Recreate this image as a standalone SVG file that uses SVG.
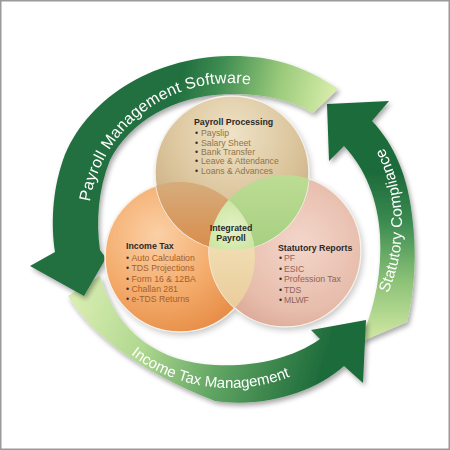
<svg xmlns="http://www.w3.org/2000/svg" width="450" height="450" viewBox="0 0 450 450">
<defs>
<style>
.t{font-family:"Liberation Sans",Arial,sans-serif;font-size:8.7px}
.h{font-weight:bold;fill:#2a2a2a;font-size:8.8px}
.b{fill:#3a3030}
.ip{fill:#8f7546}
.il{fill:#a4602c}
.ir{fill:#8e6458}
.al{font-family:"Liberation Sans",Arial,sans-serif;fill:#ffffff}
.rim{stroke:#f6f1ea;stroke-width:1.5}
</style>
<linearGradient id="gA1" gradientUnits="userSpaceOnUse" x1="332" y1="95" x2="185" y2="60">
<stop offset="0" stop-color="#d6eca9"/><stop offset="0.35" stop-color="#9ccb7c"/><stop offset="0.75" stop-color="#3f8d52"/><stop offset="1" stop-color="#22703f"/>
</linearGradient>
<linearGradient id="gA2" gradientUnits="userSpaceOnUse" x1="75" y1="300" x2="320" y2="372">
<stop offset="0" stop-color="#d9edb1"/><stop offset="0.3" stop-color="#b0d890"/><stop offset="0.62" stop-color="#5fa462"/><stop offset="1" stop-color="#1f6c3b"/>
</linearGradient>
<linearGradient id="gA3" gradientUnits="userSpaceOnUse" x1="385" y1="338" x2="385" y2="175">
<stop offset="0" stop-color="#cfe7a2"/><stop offset="0.35" stop-color="#8cc277"/><stop offset="0.72" stop-color="#3a8a50"/><stop offset="1" stop-color="#1f6c3b"/>
</linearGradient>
<radialGradient id="gT" cx="0.5" cy="0.25" r="0.8">
<stop offset="0" stop-color="#efe2c6"/><stop offset="0.5" stop-color="#dcc69e"/><stop offset="1" stop-color="#c4a274"/>
</radialGradient>
<radialGradient id="gL" cx="0.35" cy="0.35" r="0.8">
<stop offset="0" stop-color="#fbd0a6"/><stop offset="0.5" stop-color="#f4ac6c"/><stop offset="1" stop-color="#e3843c"/>
</radialGradient>
<radialGradient id="gR" cx="0.6" cy="0.45" r="0.75">
<stop offset="0" stop-color="#f3d6ca"/><stop offset="0.6" stop-color="#e7bcab"/><stop offset="1" stop-color="#d39a86"/>
</radialGradient>
<linearGradient id="gTL" gradientUnits="userSpaceOnUse" x1="0" y1="185" x2="0" y2="250">
<stop offset="0" stop-color="#d6ab7a"/><stop offset="1" stop-color="#d98c4a"/>
</linearGradient>
<linearGradient id="gTR" gradientUnits="userSpaceOnUse" x1="0" y1="175" x2="0" y2="248">
<stop offset="0" stop-color="#bcdc94"/><stop offset="1" stop-color="#a7d081"/>
</linearGradient>
<linearGradient id="gLR" gradientUnits="userSpaceOnUse" x1="0" y1="250" x2="0" y2="325">
<stop offset="0" stop-color="#f0dcb0"/><stop offset="1" stop-color="#e8c896"/>
</linearGradient>
<radialGradient id="gC" gradientUnits="userSpaceOnUse" cx="232" cy="228" r="30">
<stop offset="0" stop-color="#e4f2c8"/><stop offset="1" stop-color="#cbe4a0"/>
</radialGradient>
<clipPath id="cT"><circle cx="232" cy="173" r="77"/></clipPath>
<clipPath id="cL"><circle cx="180" cy="257" r="75"/></clipPath>
<clipPath id="cR"><circle cx="285" cy="251" r="76"/></clipPath>
<filter id="ds" x="-20%" y="-20%" width="140%" height="140%">
<feGaussianBlur in="SourceAlpha" stdDeviation="2.5"/>
<feOffset dx="2" dy="3"/>
<feComponentTransfer><feFuncA type="linear" slope="0.35"/></feComponentTransfer>
<feMerge><feMergeNode/><feMergeNode in="SourceGraphic"/></feMerge>
</filter>
<filter id="blur" x="-20%" y="-20%" width="140%" height="140%"><feGaussianBlur stdDeviation="3"/></filter>
<path id="p1" d="M 88.5 212.6 A 142 142 0 0 1 278.6 91.6"/>
<path id="p2" d="M 120.9 346.1 A 163 163 0 0 0 311.5 366.2"/>
<path id="p3" d="M 379 311 A 172 172 0 0 0 361.8 114.4"/>
</defs>

<rect x="0" y="0" width="450" height="450" fill="#ffffff"/>

<g id="connectors">
<g id="arrow-statutory-compliance" filter="url(#ds)">
<path fill="url(#gA3)" d="M 407 322 C 415 290, 417 252, 412 215 C 408 178, 395 145, 372 121 L 389 101 L 327 104 L 329 161 L 344 146 C 365 168, 378 200, 380 235 C 382 270, 376 305, 360 342 Z"/>
<text class="al" font-size="15.5"><textPath href="#p3" startOffset="20" textLength="150" lengthAdjust="spacing">Statutory Compliance</textPath></text>
</g>
<g id="arrow-income-tax-management" filter="url(#ds)">
<path fill="url(#gA2)" d="M 68 296 C 88 330, 135 370, 215 401 C 265 408, 315 392, 344 366 L 363 383 L 366 320 L 311 330 L 320 339 C 290 360, 250 367, 215 365 C 160 362, 118 335, 100 276 Z"/>
<text class="al" font-size="15"><textPath href="#p2" startOffset="13" textLength="168" lengthAdjust="spacing">Income Tax Management</textPath></text>
</g>
<g id="arrow-payroll-management-software" filter="url(#ds)">
<path fill="url(#gA1)" d="M 338 89 C 300 62, 262 55, 228 56 C 150 58, 85 100, 63 160 C 52 192, 51 225, 55 252 L 30 266 L 84 296 L 106 258 L 100 250 C 96 222, 98 190, 110 160 C 130 122, 172 96, 228 94 C 262 93, 292 100, 313 113 Z"/>
<text class="al" font-size="16"><textPath href="#p1" startOffset="11" textLength="220" lengthAdjust="spacing">Payroll Management Software</textPath></text>
</g>
</g>

<g id="circle-shadows" filter="url(#blur)" opacity="0.35" transform="translate(2,3)">
<circle cx="232" cy="173" r="77" fill="#555"/>
<circle cx="180" cy="257" r="75" fill="#555"/>
<circle cx="285" cy="251" r="76" fill="#555"/>
</g>

<g id="node-income-tax">
<circle class="rim" cx="180" cy="257" r="75" fill="url(#gL)"/>
</g>
<g id="node-statutory-reports">
<circle class="rim" cx="285" cy="251" r="76" fill="url(#gR)"/>
</g>
<g id="node-payroll-processing">
<circle class="rim" cx="232" cy="173" r="77" fill="url(#gT)"/>
</g>

<g id="overlaps">
<g clip-path="url(#cL)"><circle cx="232" cy="173" r="77" fill="url(#gTL)"/></g>
<g clip-path="url(#cR)"><circle cx="232" cy="173" r="77" fill="url(#gTR)"/></g>
<g clip-path="url(#cR)"><circle cx="180" cy="257" r="75" fill="url(#gLR)"/></g>
</g>
<g id="node-integrated-payroll">
<g clip-path="url(#cR)"><g clip-path="url(#cL)"><circle cx="232" cy="173" r="77" fill="url(#gC)"/></g></g>
<text class="t h" x="231" y="230.5" text-anchor="middle">Integrated</text>
<text class="t h" x="231" y="240.8" text-anchor="middle">Payroll</text>
</g>

<g id="text-payroll-processing" class="t">
<text class="h" x="194" y="124.5">Payroll Processing</text>
<text y="136.2" class="ip"><tspan class="b" x="195">•</tspan><tspan x="201">Payslip</tspan></text>
<text y="145.6" class="ip"><tspan class="b" x="195">•</tspan><tspan x="201">Salary Sheet</tspan></text>
<text y="155" class="ip"><tspan class="b" x="195">•</tspan><tspan x="201">Bank Transfer</tspan></text>
<text y="164.4" class="ip"><tspan class="b" x="195">•</tspan><tspan x="201">Leave &amp; Attendance</tspan></text>
<text y="173.8" class="ip"><tspan class="b" x="195">•</tspan><tspan x="201">Loans &amp; Advances</tspan></text>
</g>
<g id="text-income-tax" class="t">
<text class="h" x="126" y="249.3">Income Tax</text>
<text y="260.5" class="il"><tspan class="b" x="126">•</tspan><tspan x="131.5">Auto Calculation</tspan></text>
<text y="271" class="il"><tspan class="b" x="126">•</tspan><tspan x="131.5">TDS Projections</tspan></text>
<text y="281.5" class="il"><tspan class="b" x="126">•</tspan><tspan x="131.5">Form 16 &amp; 12BA</tspan></text>
<text y="291.8" class="il"><tspan class="b" x="126">•</tspan><tspan x="131.5">Challan 281</tspan></text>
<text y="302.1" class="il"><tspan class="b" x="126">•</tspan><tspan x="131.5">e-TDS Returns</tspan></text>
</g>
<g id="text-statutory-reports" class="t">
<text class="h" x="278" y="250.5">Statutory Reports</text>
<text y="261.2" class="ir"><tspan class="b" x="279">•</tspan><tspan x="284">PF</tspan></text>
<text y="271.8" class="ir"><tspan class="b" x="279">•</tspan><tspan x="284">ESIC</tspan></text>
<text y="282.3" class="ir"><tspan class="b" x="279">•</tspan><tspan x="284">Profession Tax</tspan></text>
<text y="292.6" class="ir"><tspan class="b" x="279">•</tspan><tspan x="284">TDS</tspan></text>
<text y="302.9" class="ir"><tspan class="b" x="279">•</tspan><tspan x="284">MLWF</tspan></text>
</g>

<rect x="0.75" y="0.75" width="448.5" height="448.5" fill="none" stroke="#9a9a9a" stroke-width="1.5"/>
</svg>
